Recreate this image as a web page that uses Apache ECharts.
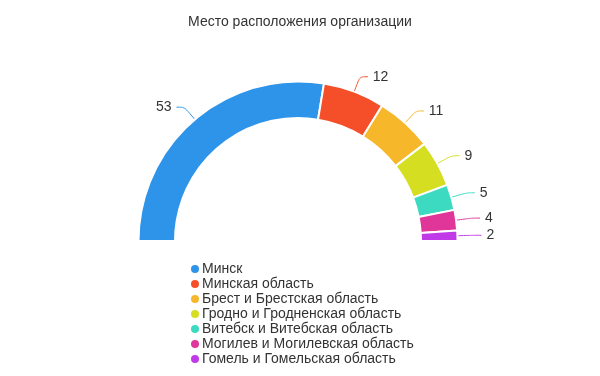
<!DOCTYPE html>
<html>
<head>
<meta charset="utf-8">
<script src="https://cdn.jsdelivr.net/npm/echarts@6/dist/echarts.min.js"></script>
<style>
  html, body { margin: 0; padding: 0; background: #fff; }
  #chart { width: 600px; height: 376px; }
</style>
</head>
<body>
<div id="chart"></div>
<script>
// data
const titleText = 'Место расположения организации';
const regions = [
  'Минск',
  'Минская область',
  'Брест и Брестская область',
  'Гродно и Гродненская область',
  'Витебск и Витебская область',
  'Могилев и Могилевская область',
  'Гомель и Гомельская область',
];
const counts = [53, 12, 11, 9, 5, 4, 2];
const colors = ['#2d94e9', '#f44f29', '#f6b72b', '#d5de20', '#3ddac2', '#e0369a', '#c03ae8'];

const chart = echarts.init(document.getElementById('chart'));
const option = {
  color: colors,
  textStyle: { fontFamily: '"Liberation Sans", Arial, sans-serif' },
  title: {
    text: titleText,
    left: 'center',
    top: 10,
    textStyle: { fontSize: 14, fontWeight: 'normal', color: '#333' },
  },
  legend: {
    orient: 'vertical',
    left: 184,
    top: 257,
    icon: 'circle',
    itemWidth: 10,
    itemHeight: 10,
    itemGap: 1,
    textStyle: { fontSize: 14, color: '#333', padding: [0, 0, 0, -3] },
    data: regions,
  },
  series: [
    {
      type: 'pie',
      center: [298, 241],
      radius: [123, 159.5],
      startAngle: 180,
      endAngle: 0,
      avoidLabelOverlap: true,
      itemStyle: { borderColor: '#fff', borderWidth: 2 },
      label: { fontSize: 14, color: '#333', formatter: '{c}' },
      labelLine: { length: 16, length2: 8, smooth: true, lineStyle: { width: 1 } },
      data: regions.map((name, i) => ({ name, value: counts[i] })),
    },
  ],
};
chart.setOption(option);
</script>
</body>
</html>
